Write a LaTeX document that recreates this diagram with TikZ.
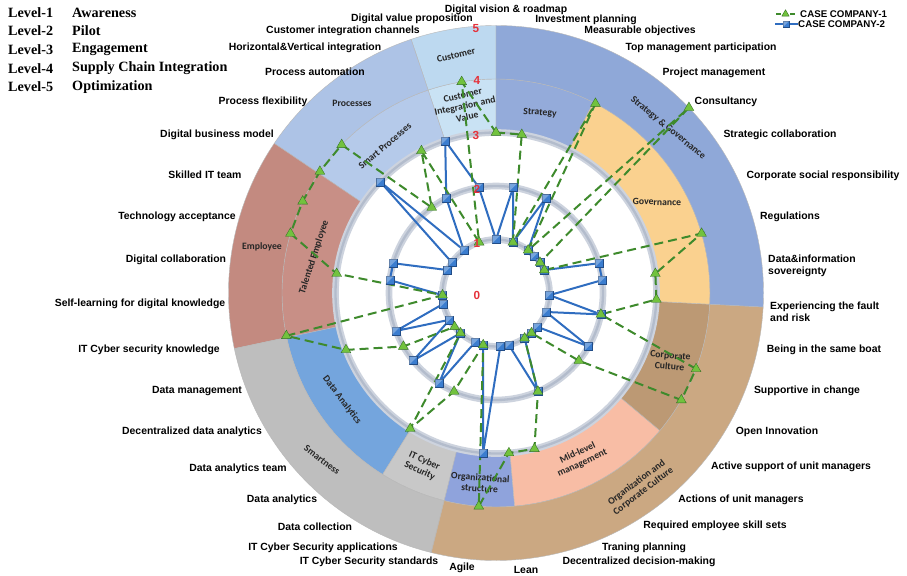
\documentclass[tikz,border=0pt]{standalone}
\usepackage{fontspec}
\setmainfont{Liberation Sans}
\newfontfamily\legendserif{Liberation Serif}
\newfontfamily\sectorfont{Carlito}
\usetikzlibrary{shapes.geometric}

% ring colours
\definecolor{cCustomer}{HTML}{BDD9F0}
\definecolor{cCustInt}{HTML}{C9E2F4}
\definecolor{cProcesses}{HTML}{ADC3E6}
\definecolor{cSmartProc}{HTML}{B5CAEA}
\definecolor{cEmployee}{HTML}{C38A80}
\definecolor{cTalented}{HTML}{C88F86}
\definecolor{cSmartness}{HTML}{BEBEBE}
\definecolor{cDataAn}{HTML}{74A5DD}
\definecolor{cITCyber}{HTML}{C8C8C8}
\definecolor{cOrgCorp}{HTML}{CBA882}
\definecolor{cOrgStruct}{HTML}{8FA3DC}
\definecolor{cMidLevel}{HTML}{F8BDA5}
\definecolor{cCorpCult}{HTML}{BC9974}
\definecolor{cStratGov}{HTML}{8FA8D8}
\definecolor{cStrategy}{HTML}{94ABDA}
\definecolor{cGovernance}{HTML}{FAD18F}
\definecolor{cRim}{HTML}{CDD3DE}
\definecolor{cRimDark}{HTML}{B3BCCC}
\definecolor{cLevel}{HTML}{E5323B}
\definecolor{cGreenLine}{HTML}{3E8A2C}
\definecolor{cGreenMark}{HTML}{72C23E}
\definecolor{cBlueLine}{HTML}{2F6DC0}
\definecolor{cBlueMark}{HTML}{3B7DCF}

% one coloured piece of a ring: colour, start angle, end angle, inner radius, outer radius
\newcommand\ringpart[5]{%
  \filldraw[fill=#1, draw=black!28, line width=0.35pt]
    (#2:#4) arc[start angle=#2, end angle=#3, radius=#4]
    -- (#3:#5) arc[start angle=#3, end angle=#2, radius=#5] -- cycle;}

\tikzset{
  axlab/.style={font=\bfseries\fontsize{8.9}{10.3}\selectfont, inner sep=0pt},
  seclab/.style={font=\sectorfont\bfseries\fontsize{8.3}{9.4}\selectfont, text=black!85, inner sep=0pt, align=center},
  levnum/.style={font=\bfseries\fontsize{10}{12}\selectfont, text=cLevel, inner sep=0pt},
  lvlkey/.style={font=\legendserif\bfseries\fontsize{12.1}{14}\selectfont, anchor=west, inner sep=0pt},
  company/.style={font=\bfseries\fontsize{8.3}{9}\selectfont, anchor=west, inner sep=0pt},
  blueline/.style={draw=cBlueLine, line width=0.6mm, line join=round},
  greenline/.style={draw=cGreenLine, line width=0.6mm, dash pattern=on 2.7mm off 1.5mm},
  rim/.style={draw=cRim, line width=2mm},
  rimcore/.style={draw=cRimDark, line width=0.7mm},
  % series markers
  bluesq/.pic={
    \filldraw[fill=cBlueMark, draw=cBlueLine!70!black, line width=0.3pt]
      (-1.2mm,-1.2mm) rectangle (1.2mm,1.2mm);
    \fill[white, opacity=0.3] (-1.2mm,1.2mm) -- (1.2mm,1.2mm) -- (-1.2mm,-1.2mm) -- cycle;
  },
  greentri/.pic={
    \filldraw[fill=cGreenMark, draw=cGreenLine!80!black, line width=0.3pt]
      (90:1.7mm) -- (210:1.7mm) -- (330:1.7mm) -- cycle;
  },
}

\begin{document}
\begin{tikzpicture}[x=0.3mm, y=-0.3mm]
\fill[white] (0,0) rectangle (907,576);
\useasboundingbox (0,0) rectangle (907,576);

% ---------------- the wheel ----------------
\begin{scope}[shift={(496,293)}, x=0.3mm, y=0.3mm]
  % inner ring (levels 3 to 4)
  \ringpart{cCustInt}{90}{108.5}{160.5}{214}
  \ringpart{cSmartProc}{108.5}{146}{160.5}{214}
  \ringpart{cTalented}{146}{192}{160.5}{214}
  \ringpart{cDataAn}{192}{238}{160.5}{214}
  \ringpart{cITCyber}{238}{256}{160.5}{214}
  \ringpart{cOrgStruct}{256}{275}{160.5}{214}
  \ringpart{cMidLevel}{275}{320}{160.5}{214}
  \ringpart{cCorpCult}{320}{357}{160.5}{214}
  \ringpart{cGovernance}{-3}{63}{160.5}{214}
  \ringpart{cStrategy}{63}{90}{160.5}{214}
  % outer ring (levels 4 to 5)
  \ringpart{cCustomer}{90}{108.5}{214}{267.5}
  \ringpart{cProcesses}{108.5}{146}{214}{267.5}
  \ringpart{cEmployee}{146}{192}{214}{267.5}
  \ringpart{cSmartness}{192}{256}{214}{267.5}
  \ringpart{cOrgCorp}{256}{357}{214}{267.5}
  \ringpart{cStratGov}{-3}{90}{214}{267.5}
  % level circles
  \foreach \r in {53.5,107,160.5} {
    \draw[rim] (0,0) circle[radius=\r];
    \draw[rimcore] (0,0) circle[radius=\r];
  }
\end{scope}

% ---------------- ring captions ----------------
\node[seclab, rotate=14] (sCustomer) at (456,55) {Customer};
\node[seclab, rotate=12] (sCustInt) at (465,106) {Customer\\Integration and\\Value};
\node[seclab, rotate=-4] (sStrategy) at (540,113) {Strategy};
\node[seclab, rotate=-39] (sStratGov) at (668,128) {Strategy \& Governance};
\node[seclab, rotate=-2] (sGov) at (657,202) {Governance};
\node[seclab, rotate=-5] (sCorp) at (670,361) {Corporate\\Culture};
\node[seclab, rotate=25] (sMid) at (580,458) {Mid-level\\management};
\node[seclab, rotate=37] (sOrgCorp) at (640,487) {Organization and\\Corporate Culture};
\node[seclab, rotate=-4] (sOrgStr) at (480,483) {Organizational\\structure};
\node[seclab, rotate=-25] (sIT) at (422,466) {IT Cyber\\Security};
\node[seclab, rotate=-53] (sDA) at (342,400) {Data Analytics};
\node[seclab, rotate=-37] (sSmart) at (322,460) {Smartness};
\node[seclab, rotate=72] (sTal) at (314,257) {Talented Employee};
\node[seclab] (sEmp) at (262,247) {Employee};
\node[seclab, rotate=40] (sSP) at (385,146) {Smart Processes};
\node[seclab] (sProc) at (352,103) {Processes};

% ---------------- the two companies ----------------
\begin{scope}[shift={(496,293)}, x=0.3mm, y=0.3mm]
  \foreach \v [count=\k from 0] in {1,2,1,2,1,1,1,1,2,2,1,2,1,2,1,1,1,2,1,1,3,1,1,2,1,2,1,2,1,1,2,2,1,1,3,1,2,3,2}
    \coordinate (b\k) at ({90-\k*360/39}:{\v*53.5});
  \foreach \v [count=\k from 0] in {3,3,1,4,1,5,1,1,4,3,3,2,4,4,2,1,1,2,3,3,4,1,2,3,1,1,2,3,4,1,3,4,4,4,4,2,3,1,4}
    \coordinate (g\k) at ({90-\k*360/39}:{\v*53.5});
  \draw[blueline] (b0) \foreach \k in {1,...,38}{ -- (b\k)} -- cycle;
  \draw[greenline] (g0) \foreach \k in {1,...,38}{ -- (g\k)} -- cycle;
  \foreach \k in {0,...,38} \path (b\k) pic {bluesq};
  \foreach \k in {0,...,38} \path (g\k) pic {greentri};
\end{scope}

% ---------------- level numbers ----------------
\node[levnum] (lv0) at (477,295) {0};
\node[levnum] (lv1) at (477,243) {1};
\node[levnum] (lv2) at (477,189) {2};
\node[levnum] (lv3) at (476,135) {3};
\node[levnum] (lv4) at (477,80) {4};
\node[levnum] (lv5) at (476,29) {5};

% ---------------- item labels ----------------
\node[axlab] (a1) at (506,10) {Digital vision \& roadmap};
\node[axlab] (a2) at (586,20) {Investment planning};
\node[axlab] (a3) at (640,31) {Measurable objectives};
\node[axlab] (a4) at (701,48) {Top management participation};
\node[axlab] (a5) at (714,73) {Project management};
\node[axlab] (a6) at (726,102) {Consultancy};
\node[axlab] (a7) at (780,135) {Strategic collaboration};
\node[axlab] (a8) at (823,176) {Corporate social responsibility};
\node[axlab] (a9) at (790,217) {Regulations};
\node[axlab, anchor=west, align=left] (a10) at (768,266) {Data\&information\\sovereignty};
\node[axlab, anchor=west, align=left] (a11) at (770,312) {Experiencing the fault\\and risk};
\node[axlab] (a12) at (824,350) {Being in the same boat};
\node[axlab] (a13) at (807,391) {Supportive in change};
\node[axlab] (a14) at (777,432) {Open Innovation};
\node[axlab] (a15) at (791,467) {Active support of unit managers};
\node[axlab] (a16) at (741,500) {Actions of unit managers};
\node[axlab] (a17) at (715,526) {Required employee skill sets};
\node[axlab] (a18) at (644,548) {Traning planning};
\node[axlab] (a19) at (639,562) {Decentralized decision-making};
\node[axlab] (a20) at (526,570) {Lean};
\node[axlab] (a21) at (462,568) {Agile};
\node[axlab] (a22) at (369,562) {IT Cyber Security standards};
\node[axlab] (a23) at (323,548) {IT Cyber Security applications};
\node[axlab] (a24) at (315,527) {Data collection};
\node[axlab] (a25) at (282,500) {Data analytics};
\node[axlab] (a26) at (238,469) {Data analytics team};
\node[axlab] (a27) at (192,432) {Decentralized data analytics};
\node[axlab] (a28) at (197,391) {Data management};
\node[axlab] (a29) at (149,350) {IT Cyber security knowledge};
\node[axlab] (a30) at (140,304) {Self-learning for digital knowledge};
\node[axlab] (a31) at (176,260) {Digital collaboration};
\node[axlab] (a32) at (177,217) {Technology acceptance};
\node[axlab] (a33) at (205,175) {Skilled IT team};
\node[axlab] (a34) at (217,135) {Digital business model};
\node[axlab] (a35) at (263,102) {Process flexibility};
\node[axlab] (a36) at (315,72) {Process automation};
\node[axlab] (a37) at (305,48) {Horizontal\&Vertical integration};
\node[axlab] (a38) at (343,31) {Customer integration channels};
\node[axlab] (a39) at (412,19) {Digital value proposition};

% ---------------- maturity levels key ----------------
\node[lvlkey] (k1a) at (8,12.7) {Level-1};
\node[lvlkey] (k1b) at (72,12.7) {Awareness};
\node[lvlkey] (k2a) at (8,30.7) {Level-2};
\node[lvlkey] (k2b) at (72,30.7) {Pilot};
\node[lvlkey] (k3a) at (8,49.3) {Level-3};
\node[lvlkey] (k3b) at (72,49.3) {Engagement};
\node[lvlkey] (k4a) at (8,68.3) {Level-4};
\node[lvlkey] (k4b) at (72,68.3) {Supply Chain Integration};
\node[lvlkey] (k5a) at (8,86.7) {Level-5};
\node[lvlkey] (k5b) at (72,86.7) {Optimization};

% ---------------- series key ----------------
\coordinate (c1a) at (776,14);
\coordinate (c1b) at (795,14);
\draw[greenline, dash pattern=on 1.5mm off 0.6mm] (c1a) -- (c1b);
\path (785.5,14) pic[scale=0.75] {greentri};
\node[company] (c1t) at (800,14) {CASE COMPANY-1};
\coordinate (c2a) at (775,24);
\coordinate (c2b) at (798,24);
\draw[blueline] (c2a) -- (c2b);
\path (786,24) pic[scale=0.8] {bluesq};
\node[company] (c2t) at (798,24) {CASE COMPANY-2};
\end{tikzpicture}
\end{document}
